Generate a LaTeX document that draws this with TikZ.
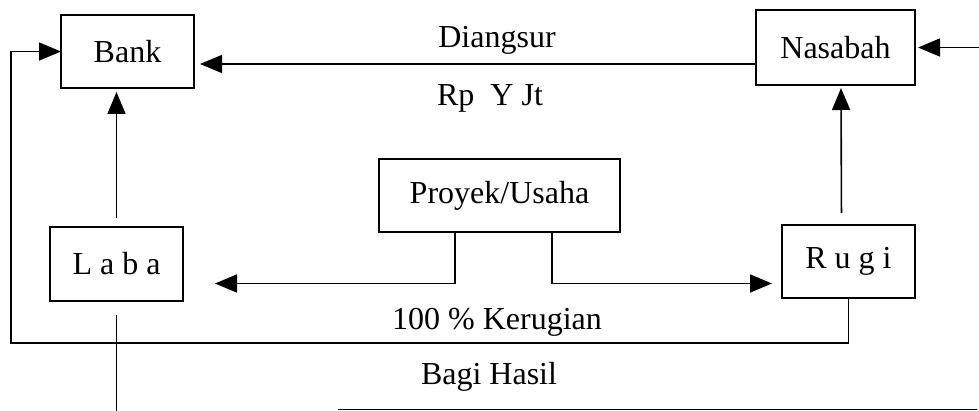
\documentclass[tikz,border=0pt]{standalone}
\usepackage{fontspec}
\setmainfont{Liberation Serif}
\usetikzlibrary{arrows.meta}

\begin{document}
\begin{tikzpicture}[x=1pt, y=-1pt, line width=1.6pt,
    every node/.style={outer sep=0pt, font=\fontsize{32}{38}\selectfont},
    kotak/.style={draw, line width=1.4pt, inner sep=0pt},
    arr/.style={-{Triangle[length=22pt,width=18pt]}}]
        \useasboundingbox (0,0) rectangle (979,411);
        \node (Bank) [kotak, minimum width=133pt, minimum height=73pt] at (127.5,51.5) {Bank};
        \node (Nasabah) [kotak, minimum width=159pt, minimum height=75pt] at (835.5,47.5) {Nasabah};
        \node (Proyek) [kotak, minimum width=241pt, minimum height=73pt] at (499.5,195.5) {Proyek/Usaha};
        \node (Laba) [kotak, minimum width=133pt, minimum height=74pt] at (116.5,264) {L a b a};
        \node (Rugi) [kotak, minimum width=133pt, minimum height=73pt] at (848.5,261.5) {R u g i};
        % helper points
        \coordinate (angsur) at (500,64);
        \coordinate (masuk) at (979,47.5);
        \coordinate (kiri) at (11,343);
        \coordinate (pisah) at (500,283.5);
        \coordinate (bawah) at (117,411);
        \coordinate (garis-a) at (338,409.5);
        \coordinate (garis-b) at (977,409.5);
        % connectors
        \draw [arr, shorten >=6pt] (Nasabah.west |- angsur) -- (Bank.east |- angsur);
        \draw [arr, shorten >=3pt] (masuk) -- (Nasabah.east);
        \draw [arr] (Rugi.south) |- (kiri) |- (Bank.west);
        \draw [arr, shorten <=9pt, shorten >=4pt] (Laba.north) -- (Laba.north |- Bank.south);
        \draw [arr, shorten <=12pt, shorten >=3pt] ([xshift=-7pt]Rugi.north) -- ([xshift=5.5pt]Nasabah.south);
        \draw [arr, shorten >=32pt] ([xshift=-44.5pt]Proyek.south) |- (Laba.east |- pisah);
        \draw [arr, shorten >=10pt] ([xshift=52.5pt]Proyek.south) |- (Rugi.west |- pisah);
        \draw [shorten <=14pt] (Laba.south) -- (Laba.south |- bawah);
        \draw (garis-a) -- (garis-b);
        % labels
        \node (diangsur) at (497,40) {Diangsur};
        \node (rp) at (490,98) {Rp\ \ Y Jt};
        \node (kerugian) at (497,322) {100 \% Kerugian};
        \node (bagi) at (489,377) {Bagi Hasil};
      %\draw [help lines,gray!50,step=10] (0,0) grid (979,411);
    \end{tikzpicture}
\end{document}
